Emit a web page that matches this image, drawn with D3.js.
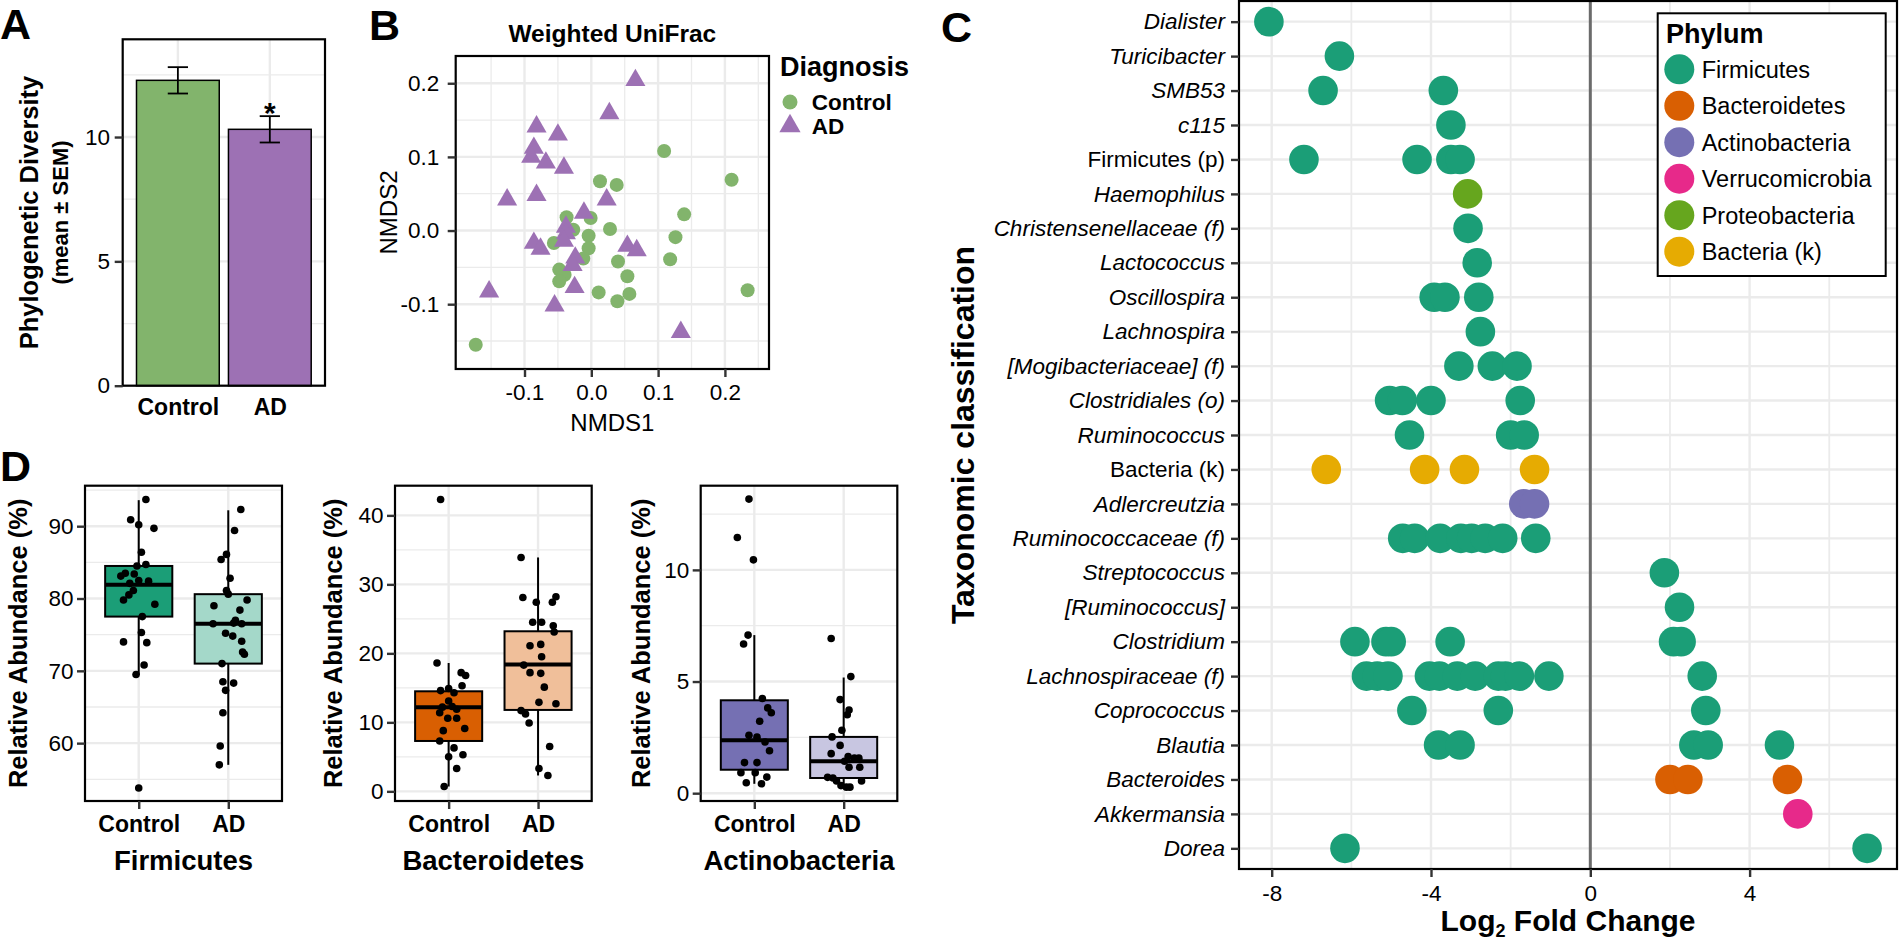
<!DOCTYPE html>
<html><head><meta charset="utf-8">
<script src="https://cdn.jsdelivr.net/npm/d3@7"></script>
<style>
body{margin:0;background:#fff;}
svg{display:block;}
</style></head><body>
<svg id="fig" width="1899" height="943"></svg>
<script>
// ===================== DATA =====================
// Panel A
const diversityGroups = ["Control", "AD"];
const diversityMean = [12.28, 10.31];
const diversitySEM = [0.53, 0.53];
const diversityYTicks = [0, 5, 10];

// Panel B (NMDS, weighted UniFrac)
const controlNMDS1 = [0.109,0.210,0.013,0.038,0.139,-0.037,-0.001,0.028,-0.027,-0.004,0.126,-0.056,-0.004,-0.012,0.040,0.118,-0.048,-0.040,-0.048,0.054,0.011,0.057,0.039,0.234,-0.173];
const controlNMDS2 = [0.108,0.069,0.067,0.062,0.022,0.018,0.017,0.002,0.001,-0.007,-0.009,-0.017,-0.024,-0.038,-0.042,-0.039,-0.053,-0.060,-0.069,-0.062,-0.084,-0.086,-0.096,-0.081,-0.155];
const adNMDS1 = [0.066,0.027,-0.082,-0.050,-0.086,-0.090,-0.068,-0.041,-0.126,-0.082,0.023,-0.011,-0.038,-0.038,-0.086,-0.076,-0.041,0.054,0.068,-0.024,-0.028,-0.025,-0.153,-0.055,0.134];
const adNMDS2 = [0.204,0.159,0.141,0.130,0.112,0.100,0.092,0.085,0.042,0.048,0.042,0.024,0.005,-0.004,-0.017,-0.025,-0.014,-0.021,-0.027,-0.037,-0.047,-0.077,-0.083,-0.102,-0.138];
const nmdsXTicks = [-0.1, 0.0, 0.1, 0.2];
const nmdsYTicks = [-0.1, 0.0, 0.1, 0.2];
const nmdsXMinor = [-0.15, -0.05, 0.05, 0.15, 0.25];
const nmdsYMinor = [-0.15, -0.05, 0.05, 0.15];

// Panel C (log2 fold change by taxon)
const taxa = ["Dialister","Turicibacter","SMB53","c115","Firmicutes (p)","Haemophilus","Christensenellaceae (f)","Lactococcus","Oscillospira","Lachnospira","[Mogibacteriaceae] (f)","Clostridiales (o)","Ruminococcus","Bacteria (k)","Adlercreutzia","Ruminococcaceae (f)","Streptococcus","[Ruminococcus]","Clostridium","Lachnospiraceae (f)","Coprococcus","Blautia","Bacteroides","Akkermansia","Dorea"];
const uprightTaxa = ["Firmicutes (p)", "Bacteria (k)"];
const phyla = ["Firmicutes","Bacteroidetes","Actinobacteria","Verrucomicrobia","Proteobacteria","Bacteria (k)"];
const foldChanges = [
  {taxon:"Dialister", phylum:"Firmicutes", lfc:[-8.07]},
  {taxon:"Turicibacter", phylum:"Firmicutes", lfc:[-6.30]},
  {taxon:"SMB53", phylum:"Firmicutes", lfc:[-6.71,-3.69]},
  {taxon:"c115", phylum:"Firmicutes", lfc:[-3.50]},
  {taxon:"Firmicutes (p)", phylum:"Firmicutes", lfc:[-7.19,-4.35,-3.50,-3.27]},
  {taxon:"Haemophilus", phylum:"Proteobacteria", lfc:[-3.08]},
  {taxon:"Christensenellaceae (f)", phylum:"Firmicutes", lfc:[-3.07]},
  {taxon:"Lactococcus", phylum:"Firmicutes", lfc:[-2.84]},
  {taxon:"Oscillospira", phylum:"Firmicutes", lfc:[-3.92,-3.65,-2.80]},
  {taxon:"Lachnospira", phylum:"Firmicutes", lfc:[-2.76]},
  {taxon:"[Mogibacteriaceae] (f)", phylum:"Firmicutes", lfc:[-3.30,-2.46,-1.84]},
  {taxon:"Clostridiales (o)", phylum:"Firmicutes", lfc:[-5.04,-4.72,-4.00,-1.76]},
  {taxon:"Ruminococcus", phylum:"Firmicutes", lfc:[-4.54,-2.00,-1.66]},
  {taxon:"Bacteria (k)", phylum:"Bacteria (k)", lfc:[-6.63,-4.16,-3.16,-1.40]},
  {taxon:"Adlercreutzia", phylum:"Actinobacteria", lfc:[-1.67,-1.40]},
  {taxon:"Ruminococcaceae (f)", phylum:"Firmicutes", lfc:[-4.71,-4.41,-3.77,-3.25,-2.98,-2.64,-2.20,-1.37]},
  {taxon:"Streptococcus", phylum:"Firmicutes", lfc:[1.86]},
  {taxon:"[Ruminococcus]", phylum:"Firmicutes", lfc:[2.24]},
  {taxon:"Clostridium", phylum:"Firmicutes", lfc:[-5.91,-5.13,-5.00,-3.52,2.09,2.28]},
  {taxon:"Lachnospiraceae (f)", phylum:"Firmicutes", lfc:[-5.62,-5.35,-5.08,-4.04,-3.79,-3.34,-2.89,-2.31,-2.13,-1.78,-1.04,2.81]},
  {taxon:"Coprococcus", phylum:"Firmicutes", lfc:[-4.48,-2.31,2.90]},
  {taxon:"Blautia", phylum:"Firmicutes", lfc:[-3.81,-3.27,2.60,2.96,4.75]},
  {taxon:"Bacteroides", phylum:"Bacteroidetes", lfc:[2.00,2.45,4.95]},
  {taxon:"Akkermansia", phylum:"Verrucomicrobia", lfc:[5.21]},
  {taxon:"Dorea", phylum:"Firmicutes", lfc:[-6.16,6.95]}
];
const lfcTicks = [-8, -4, 0, 4];
const lfcMinor = [-6, -2, 2, 6];

// Panel D (relative abundance), points are [value, horizontal jitter in group units]
const abundanceGroups = ["Control", "AD"];
const abundancePhyla = ["Firmicutes", "Bacteroidetes", "Actinobacteria"];
const firmicutesControl = [[93.7,0.08],[90.9,-0.09],[90.2,0.0],[89.7,0.17],[86.4,0.03],[84.5,-0.02],[84.7,0.08],[83.5,-0.15],[83.1,-0.2],[83.4,-0.05],[82.5,0.0],[82.4,0.11],[82.1,-0.1],[81.1,-0.06],[80.5,-0.11],[79.8,-0.17],[79.2,0.18],[77.5,0.04],[75.3,0.03],[74.0,-0.17],[73.9,0.09],[70.8,0.06],[69.5,-0.03],[53.8,0.0]];
const firmicutesAD = [[92.3,0.14],[89.4,0.07],[86.1,-0.02],[85.4,-0.08],[82.8,0.02],[81.1,-0.02],[80.6,0.0],[79.8,0.21],[79.0,-0.16],[78.4,0.13],[77.0,0.08],[76.5,-0.17],[76.6,0.06],[76.5,0.15],[75.2,-0.03],[74.8,0.05],[74.1,0.15],[72.6,0.16],[72.3,0.18],[71.0,-0.07],[68.5,-0.06],[68.3,0.06],[67.3,-0.03],[64.2,-0.06],[59.6,-0.09],[57.0,-0.1]];
const bacteroidetesControl = [[42.3,-0.09],[18.6,-0.13],[17.2,0.14],[16.8,0.19],[15.3,0.15],[14.9,0.0],[14.6,-0.09],[14.3,0.06],[13.1,0.0],[12.2,-0.07],[12.3,0.04],[11.4,-0.1],[11.9,0.09],[10.6,-0.01],[10.6,0.09],[9.1,0.18],[8.8,-0.06],[7.3,-0.1],[6.3,0.06],[5.3,0.16],[5.0,0.0],[3.3,0.09],[0.7,-0.05]];
const bacteroidetesAD = [[33.9,-0.19],[28.2,0.2],[28.1,-0.17],[27.4,-0.02],[27.4,0.16],[24.5,-0.06],[24.5,0.04],[24.0,0.17],[23.1,0.18],[21.1,-0.09],[21.3,0.03],[19.5,0.04],[18.3,-0.16],[17.2,-0.09],[17.1,0.03],[15.1,0.07],[12.9,0.01],[12.7,0.2],[11.7,-0.19],[11.2,-0.14],[9.9,-0.1],[6.5,0.13],[3.3,0.01],[2.3,0.11]];
const actinobacteriaControl = [[13.17,-0.06],[11.45,-0.19],[10.45,-0.01],[7.08,-0.07],[6.68,-0.12],[4.24,0.09],[3.82,0.15],[3.6,0.19],[3.22,0.06],[2.59,-0.06],[2.51,0.03],[2.29,0.12],[1.9,0.17],[1.37,-0.11],[1.37,0.03],[0.92,-0.15],[0.92,0.01],[0.72,0.14],[0.47,-0.09],[0.42,0.08]];
const actinobacteriaAD = [[6.93,-0.14],[5.22,0.08],[4.19,-0.04],[3.72,0.06],[3.51,0.04],[2.82,-0.02],[2.52,-0.13],[2.14,-0.04],[1.77,-0.14],[1.64,0.05],[1.57,0.12],[1.57,0.17],[1.43,0.01],[1.16,0.06],[1.16,0.18],[0.71,-0.18],[0.68,-0.12],[0.55,-0.08],[0.55,0.2],[0.34,-0.03],[0.27,0.03],[0.27,0.07]];
// box stats: [lower whisker, q1, median, q3, upper whisker]
const firmicutesBox = [[69.4,77.5,81.9,84.5,93.6],[57.0,71.0,76.5,80.6,92.2]];
const bacteroidetesBox = [[0.7,7.3,12.2,14.5,18.6],[2.3,11.8,18.4,23.2,33.9]];
const actinobacteriaBox = [[0.42,1.05,2.37,4.16,7.08],[0.27,0.68,1.43,2.52,5.18]];
const firmicutesTicks = [60,70,80,90], firmicutesMinor = [55,65,75,85,95];
const bacteroidetesTicks = [0,10,20,30,40], bacteroidetesMinor = [5,15,25,35];
const actinobacteriaTicks = [0,5,10], actinobacteriaMinor = [2.5,7.5,12.5];

// ===================== STYLE =====================
const FONT = '"Liberation Sans", Arial, Helvetica, sans-serif';
const GRID = '#ebebeb', TICKC = '#333333';
const GREEN = '#82b46c', PURPLE = '#9d71b4';
const phylumColors = ['#1b9e77','#d95f02','#7570b3','#e7298a','#66a61e','#e6ab02'];
const boxFills = [['#1b9e77','#a4d8c9'],['#d95f02','#f0bf9a'],['#7570b3','#c8c6e1']];
const TICKFS = 22.5;

const svg = d3.select('#fig').attr('font-family', FONT);
svg.append('rect').attr('width',1899).attr('height',943).attr('fill','#fff');

function styleAxis(g, fs, weight){
  g.attr('font-size', null).attr('font-family', null);
  g.select('.domain').remove();
  g.selectAll('.tick line').attr('stroke', TICKC).attr('stroke-width', 2.4);
  g.selectAll('.tick text').attr('font-size', fs).attr('fill', '#000').attr('font-family', FONT).attr('font-weight', weight || 'normal');
}
function hGrid(vals, y, x0, x1, w){
  svg.append('g').selectAll('line').data(vals).join('line')
    .attr('x1', x0).attr('x2', x1).attr('y1', d => y(d)).attr('y2', d => y(d))
    .attr('stroke', GRID).attr('stroke-width', w);
}
function vGrid(vals, x, y0, y1, w){
  svg.append('g').selectAll('line').data(vals).join('line')
    .attr('y1', y0).attr('y2', y1).attr('x1', d => x(d)).attr('x2', d => x(d))
    .attr('stroke', GRID).attr('stroke-width', w);
}
function frame(f){
  svg.append('rect').attr('x', f.x0).attr('y', f.y0).attr('width', f.x1 - f.x0).attr('height', f.y1 - f.y0)
    .attr('fill', 'none').attr('stroke', '#000').attr('stroke-width', 2.2);
}
function vTitle(txt, x, y, fs, weight){
  svg.append('text').attr('transform', `translate(${x},${y}) rotate(-90)`).attr('text-anchor','middle')
    .attr('font-size', fs).attr('font-weight', weight || 'normal').text(txt);
}
function panelLabel(t, x, y){
  svg.append('text').attr('x', x).attr('y', y).attr('font-size', 43).attr('font-weight', 'bold').text(t);
}

// ===================== PANEL A =====================
{
  const f = {x0:122.7, x1:325, y0:39.3, y1:385.7};
  const x = d3.scalePoint().domain(diversityGroups).range([f.x0, f.x1]).padding(0.6);
  const y = d3.scaleLinear().domain([0, 13.93]).range([f.y1, f.y0]);
  const step = x.step();
  hGrid([2.5, 7.5, 12.5], y, f.x0, f.x1, 1.3);
  hGrid(diversityYTicks, y, f.x0, f.x1, 2.4);
  vGrid(diversityGroups, x, f.y0, f.y1, 2.4);
  svg.append('g').selectAll('rect').data(diversityGroups).join('rect')
    .attr('x', d => x(d) - step*0.45).attr('width', step*0.9)
    .attr('y', (d,i) => y(diversityMean[i])).attr('height', (d,i) => y(0) - y(diversityMean[i]))
    .attr('fill', (d,i) => [GREEN, PURPLE][i]).attr('stroke', '#000').attr('stroke-width', 1.5);
  const eb = svg.append('g').attr('stroke', '#000').attr('stroke-width', 1.8);
  diversityGroups.forEach((d,i) => {
    const cx = x(d), hi = y(diversityMean[i] + diversitySEM[i]), lo = y(diversityMean[i] - diversitySEM[i]), hw = step*0.11;
    eb.append('line').attr('x1', cx).attr('x2', cx).attr('y1', hi).attr('y2', lo);
    eb.append('line').attr('x1', cx-hw).attr('x2', cx+hw).attr('y1', hi).attr('y2', hi);
    eb.append('line').attr('x1', cx-hw).attr('x2', cx+hw).attr('y1', lo).attr('y2', lo);
  });
  svg.append('text').attr('x', x('AD')).attr('y', y(diversityMean[1] + diversitySEM[1]) + 7)
    .attr('text-anchor','middle').attr('font-size', 30).attr('font-weight','bold').text('*');
  frame(f);
  const gy = svg.append('g').attr('transform', `translate(${f.x0},0)`)
    .call(d3.axisLeft(y).tickValues(diversityYTicks).tickSize(8).tickPadding(4.7).tickFormat(d => String(d)));
  styleAxis(gy, TICKFS);
  const gx = svg.append('g').attr('transform', `translate(0,${f.y1})`)
    .call(d3.axisBottom(x).tickSize(0).tickPadding(13));
  styleAxis(gx, 23, 'bold');
  vTitle('Phylogenetic Diversity', 37.5, (f.y0+f.y1)/2, 25.5, 'bold');
  vTitle('(mean ± SEM)', 67.5, (f.y0+f.y1)/2, 22, 'bold');
  panelLabel('A', 0, 39);
}

// ===================== PANEL B =====================
{
  const f = {x0:455.7, x1:769, y0:56, y1:369};
  const x = d3.scaleLinear().domain([-0.203, 0.266]).range([f.x0, f.x1]);
  const y = d3.scaleLinear().domain([-0.188, 0.237]).range([f.y1, f.y0]);
  vGrid(nmdsXMinor.filter(v => v > -0.203 && v < 0.266), x, f.y0, f.y1, 1.3);
  hGrid(nmdsYMinor, y, f.x0, f.x1, 1.3);
  vGrid(nmdsXTicks, x, f.y0, f.y1, 2.4);
  hGrid(nmdsYTicks, y, f.x0, f.x1, 2.4);
  svg.append('g').selectAll('circle').data(controlNMDS1).join('circle')
    .attr('cx', d => x(d)).attr('cy', (d,i) => y(controlNMDS2[i])).attr('r', 7).attr('fill', GREEN);
  const tri = d3.symbol(d3.symbolTriangle, 175);
  svg.append('g').selectAll('path').data(adNMDS1).join('path')
    .attr('d', tri).attr('transform', (d,i) => `translate(${x(d)},${y(adNMDS2[i])})`).attr('fill', PURPLE);
  frame(f);
  const gy = svg.append('g').attr('transform', `translate(${f.x0},0)`)
    .call(d3.axisLeft(y).tickValues(nmdsYTicks).tickSize(8).tickPadding(8.4).tickFormat(d => d.toFixed(1)));
  styleAxis(gy, TICKFS);
  const gx = svg.append('g').attr('transform', `translate(0,${f.y1})`)
    .call(d3.axisBottom(x).tickValues(nmdsXTicks).tickSize(8).tickPadding(7).tickFormat(d => d.toFixed(1)));
  styleAxis(gx, TICKFS);
  svg.append('text').attr('x', (f.x0+f.x1)/2).attr('y', 431).attr('text-anchor','middle').attr('font-size', 24).text('NMDS1');
  vTitle('NMDS2', 396.5, (f.y0+f.y1)/2, 24);
  svg.append('text').attr('x', (f.x0+f.x1)/2).attr('y', 42).attr('text-anchor','middle').attr('font-size', 24.5).attr('font-weight','bold').text('Weighted UniFrac');
  // legend
  svg.append('text').attr('x', 780).attr('y', 76).attr('font-size', 27).attr('font-weight','bold').text('Diagnosis');
  svg.append('circle').attr('cx', 790).attr('cy', 102).attr('r', 7.5).attr('fill', GREEN);
  svg.append('path').attr('d', d3.symbol(d3.symbolTriangle, 195)).attr('transform','translate(790,126)').attr('fill', PURPLE);
  svg.append('text').attr('x', 811.7).attr('y', 110).attr('font-size', 22.5).attr('font-weight','bold').text('Control');
  svg.append('text').attr('x', 811.7).attr('y', 134).attr('font-size', 22.5).attr('font-weight','bold').text('AD');
  panelLabel('B', 369, 40);
}

// ===================== PANEL C =====================
{
  const f = {x0:1239, x1:1897, y0:1, y1:869};
  const pts = foldChanges.flatMap(r => r.lfc.map(v => ({taxon:r.taxon, phylum:r.phylum, v})));
  const ext = d3.extent(pts, d => d.v), pad = (ext[1]-ext[0])*0.05;
  const x = d3.scaleLinear().domain([ext[0]-pad, ext[1]+pad]).range([f.x0, f.x1]);
  const y = d3.scalePoint().domain(taxa).range([f.y0, f.y1]).padding(0.6);
  const color = d3.scaleOrdinal().domain(phyla).range(phylumColors);
  vGrid(lfcMinor, x, f.y0, f.y1, 1.8);
  vGrid(lfcTicks, x, f.y0, f.y1, 2.4);
  hGrid(taxa, y, f.x0, f.x1, 2.4);
  svg.append('line').attr('x1', x(0)).attr('x2', x(0)).attr('y1', f.y0).attr('y2', f.y1)
    .attr('stroke', '#6b6b6b').attr('stroke-width', 3);
  svg.append('g').selectAll('circle').data(pts).join('circle')
    .attr('cx', d => x(d.v)).attr('cy', d => y(d.taxon)).attr('r', 14.8).attr('fill', d => color(d.phylum));
  frame(f);
  const gy = svg.append('g').attr('transform', `translate(${f.x0},0)`)
    .call(d3.axisLeft(y).tickSize(8).tickPadding(6));
  styleAxis(gy, TICKFS);
  gy.selectAll('.tick text').attr('font-style', d => uprightTaxa.includes(d) ? 'normal' : 'italic');
  const gx = svg.append('g').attr('transform', `translate(0,${f.y1})`)
    .call(d3.axisBottom(x).tickValues(lfcTicks).tickSize(8).tickPadding(8).tickFormat(d => String(d)));
  styleAxis(gx, TICKFS);
  const t = svg.append('text').attr('x', (f.x0+f.x1)/2).attr('y', 931).attr('text-anchor','middle')
    .attr('font-size', 30).attr('font-weight','bold');
  t.append('tspan').text('Log');
  t.append('tspan').attr('font-size', 18).attr('dy', 6).text('2');
  t.append('tspan').attr('dy', -6).text(' Fold Change');
  vTitle('Taxonomic classification', 974, (f.y0+f.y1)/2, 32, 'bold');
  // legend
  const L = {x:1657.7, y:13.3, w:228, h:262.7};
  svg.append('rect').attr('x', L.x).attr('y', L.y).attr('width', L.w).attr('height', L.h)
    .attr('fill', '#fff').attr('stroke', '#000').attr('stroke-width', 2);
  svg.append('text').attr('x', 1666).attr('y', 42.5).attr('font-size', 27).attr('font-weight','bold').text('Phylum');
  const ly = d3.scalePoint().domain(phyla).range([69.3, 251.7]);
  const lg = svg.append('g').selectAll('g').data(phyla).join('g').attr('transform', d => `translate(0,${ly(d)})`);
  lg.append('circle').attr('cx', 1679.3).attr('r', 15).attr('fill', d => color(d));
  lg.append('text').attr('x', 1701.7).attr('y', 8.3).attr('font-size', 23.5).text(d => d);
  panelLabel('C', 941, 42);
}

// ===================== PANEL D =====================
{
  const panels = [
    {f:{x0:85, x1:282}, dom:[52.0, 95.6], ticks:firmicutesTicks, minor:firmicutesMinor, box:firmicutesBox, pts:[firmicutesControl, firmicutesAD], ty:27},
    {f:{x0:395, x1:591.7}, dom:[-1.4, 44.3], ticks:bacteroidetesTicks, minor:bacteroidetesMinor, box:bacteroidetesBox, pts:[bacteroidetesControl, bacteroidetesAD], ty:341.5},
    {f:{x0:700.7, x1:897.3}, dom:[-0.35, 13.77], ticks:actinobacteriaTicks, minor:actinobacteriaMinor, box:actinobacteriaBox, pts:[actinobacteriaControl, actinobacteriaAD], ty:649.5}
  ];
  panels.forEach((p, k) => {
    const f = {x0:p.f.x0, x1:p.f.x1, y0:485.7, y1:801};
    const x = d3.scalePoint().domain(abundanceGroups).range([f.x0, f.x1]).padding(0.6);
    const y = d3.scaleLinear().domain(p.dom).range([f.y1, f.y0]);
    const step = x.step();
    hGrid(p.minor.filter(v => v > p.dom[0] && v < p.dom[1]), y, f.x0, f.x1, 1.3);
    hGrid(p.ticks, y, f.x0, f.x1, 2.4);
    vGrid(abundanceGroups, x, f.y0, f.y1, 2.4);
    abundanceGroups.forEach((g, i) => {
      const s = p.box[i], cx = x(g), hw = step*0.375;
      const bg = svg.append('g');
      bg.append('line').attr('x1', cx).attr('x2', cx).attr('y1', y(s[0])).attr('y2', y(s[4])).attr('stroke','#000').attr('stroke-width', 2);
      bg.append('rect').attr('x', cx-hw).attr('width', 2*hw).attr('y', y(s[3])).attr('height', y(s[1]) - y(s[3]))
        .attr('fill', boxFills[k][i]).attr('stroke', '#000').attr('stroke-width', 2);
      bg.append('line').attr('x1', cx-hw).attr('x2', cx+hw).attr('y1', y(s[2])).attr('y2', y(s[2])).attr('stroke','#000').attr('stroke-width', 4);
      svg.append('g').selectAll('circle').data(p.pts[i]).join('circle')
        .attr('cx', d => cx + d[1]*step).attr('cy', d => y(d[0])).attr('r', 3.8).attr('fill', '#000');
    });
    frame(f);
    const gy = svg.append('g').attr('transform', `translate(${f.x0},0)`)
      .call(d3.axisLeft(y).tickValues(p.ticks).tickSize(8).tickPadding(3.5).tickFormat(d => String(d)));
    styleAxis(gy, TICKFS);
    const gx = svg.append('g').attr('transform', `translate(0,${f.y1})`)
      .call(d3.axisBottom(x).tickSize(8).tickPadding(6.5));
    styleAxis(gx, 23, 'bold');
    vTitle('Relative Abundance (%)', p.ty, (f.y0+f.y1)/2, 25.5, 'bold');
    svg.append('text').attr('x', (f.x0+f.x1)/2).attr('y', 870).attr('text-anchor','middle')
      .attr('font-size', 27.5).attr('font-weight','bold').text(abundancePhyla[k]);
  });
  panelLabel('D', 0, 481);
}
</script></body></html>
